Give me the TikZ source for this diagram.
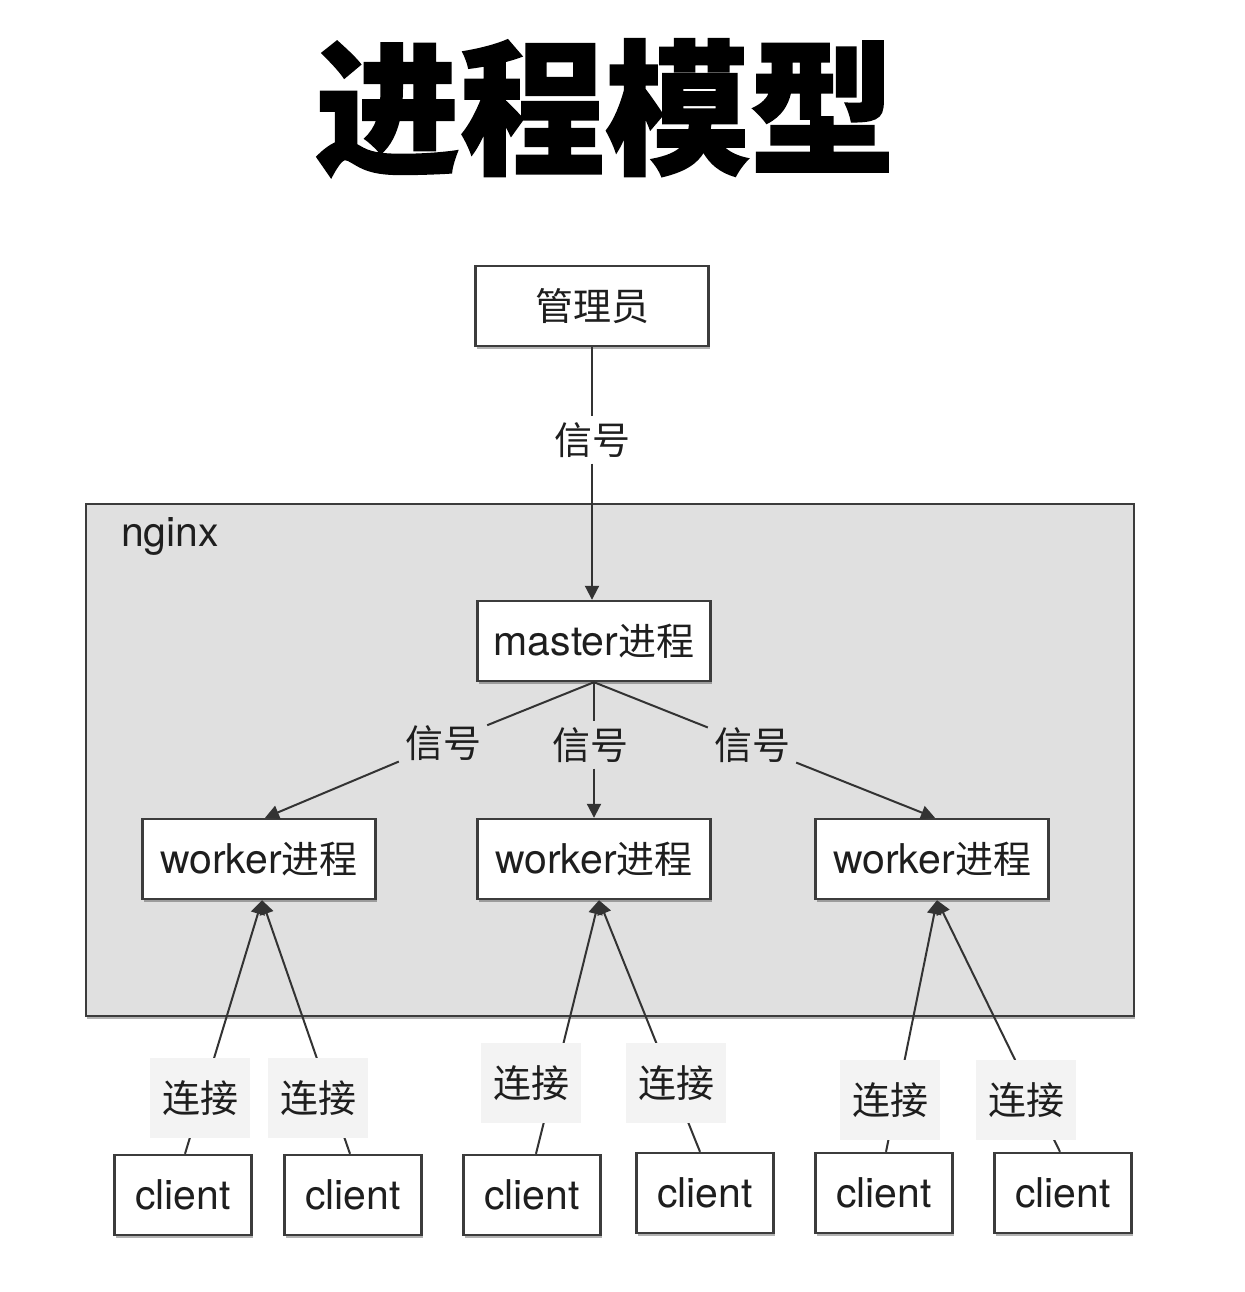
\documentclass[tikz,border=0pt]{standalone}
\usepackage{fontspec}
\setmainfont{TeX Gyre Heros}
\newfontfamily\cjk{Noto Sans CJK SC}
\newfontfamily\cjktitle[BoldFeatures={FakeBold=1.2}]{Noto Sans CJK SC}
\usetikzlibrary{arrows.meta,shadows}
\definecolor{boxline}{HTML}{3C3C3C}
\definecolor{wire}{HTML}{333333}
\definecolor{nginxgray}{HTML}{E0E0E0}
\definecolor{labgray}{HTML}{F3F3F3}
\definecolor{txt}{HTML}{1E1E1E}
\newcommand\zh[1]{{\cjk\fontsize{38}{40}\selectfont #1}}
\newcommand\la[1]{{\fontsize{41}{44}\selectfont #1}}
\begin{document}
\begin{tikzpicture}[x=1pt,y=-1pt, text=txt,
  box/.style={draw=boxline, line width=2.4pt, fill=white, inner sep=0pt,
    minimum width=233pt, minimum height=80pt,
    drop shadow={shadow xshift=1pt, shadow yshift=-3pt, opacity=.3, fill=black}},
  cbox/.style={box, minimum width=137pt},
  sig/.style={inner sep=6pt, fill=#1},
  conn/.style={fill=labgray, minimum width=100pt, minimum height=80pt, inner sep=0pt},
  wireline/.style={draw=wire, line width=2pt},
  arr/.style={wireline, -{Triangle[length=14pt,width=14pt]}},
]
\useasboundingbox (0,0) rectangle (1244,1292);
\fill[white] (0,0) rectangle (1244,1292);

% title
\node[text=black] (title) at (605,108) {{\cjktitle\bfseries\fontsize{145}{150}\selectfont 进程模型}};

% nginx container
\node[draw=boxline, line width=2.4pt, fill=nginxgray, minimum width=1048pt, minimum height=512pt,
  drop shadow={shadow xshift=1pt, shadow yshift=-3pt, opacity=.3, fill=black}] (nginx) at (610,760) {};
\node[anchor=west, inner sep=0pt] (nginxlab) at (121,536) {\la{nginx}};

% nodes
\node[box] (admin) at (592,306) {\zh{管理员}};
\node[box] (master) at (594,641) {\la{master}\zh{进程}};
\node[box] (w1) at (259,859) {\la{worker}\zh{进程}};
\node[box] (w2) at (594,859) {\la{worker}\zh{进程}};
\node[box] (w3) at (932,859) {\la{worker}\zh{进程}};

% signal labels
\node[sig=white] (s0) at (592,440) {\zh{信号}};
\node[sig=nginxgray] (s1) at (443,743) {\zh{信号}};
\node[sig=nginxgray] (s2) at (590,745) {\zh{信号}};
\node[sig=nginxgray] (s3) at (752,745) {\zh{信号}};

\draw[wireline] (admin.south) -- (admin.south |- s0.north);
\draw[arr] (admin.south |- s0.south) -- (admin.south |- master.north);
\draw[wireline] (master.south) -- (s1);
\draw[arr] (s1) -- ([xshift=6pt]w1.north);
\draw[wireline] (master.south) -- (master.south |- s2.north);
\draw[arr] (s2.south -| w2.north) -- (w2.north);
\draw[wireline] (master.south) -- (s3);
\draw[arr] (s3) -- ([xshift=3pt]w3.north);

% clients
\node[cbox] (c1) at (183,1195) {\la{client}};
\node[cbox] (c2) at (353,1195) {\la{client}};
\node[cbox] (c3) at (532,1195) {\la{client}};
\node[cbox] (c4) at (705,1193) {\la{client}};
\node[cbox] (c5) at (884,1193) {\la{client}};
\node[cbox] (c6) at (1063,1193) {\la{client}};

\coordinate (w1b) at ([xshift=3pt]w1.south);
\coordinate (w2b) at ([xshift=5pt]w2.south);
\coordinate (w3b) at ([xshift=5pt]w3.south);

\draw[arr] ([xshift=2pt]c1.north) -- (w1b);
\draw[arr] ([xshift=-3pt]c2.north) -- (w1b);
\draw[arr] ([xshift=4pt]c3.north) -- (w2b);
\draw[arr] ([xshift=-5pt]c4.north) -- (w2b);
\draw[arr] ([xshift=2pt]c5.north) -- (w3b);
\draw[arr] ([xshift=-3pt]c6.north) -- (w3b);

% connection labels (drawn over the lines)
\node[conn] (l1) at (200,1098) {\zh{连接}};
\node[conn] (l2) at (318,1098) {\zh{连接}};
\node[conn] (l3) at (531,1083) {\zh{连接}};
\node[conn] (l4) at (676,1083) {\zh{连接}};
\node[conn] (l5) at (890,1100) {\zh{连接}};
\node[conn] (l6) at (1026,1100) {\zh{连接}};
\end{tikzpicture}
\end{document}
